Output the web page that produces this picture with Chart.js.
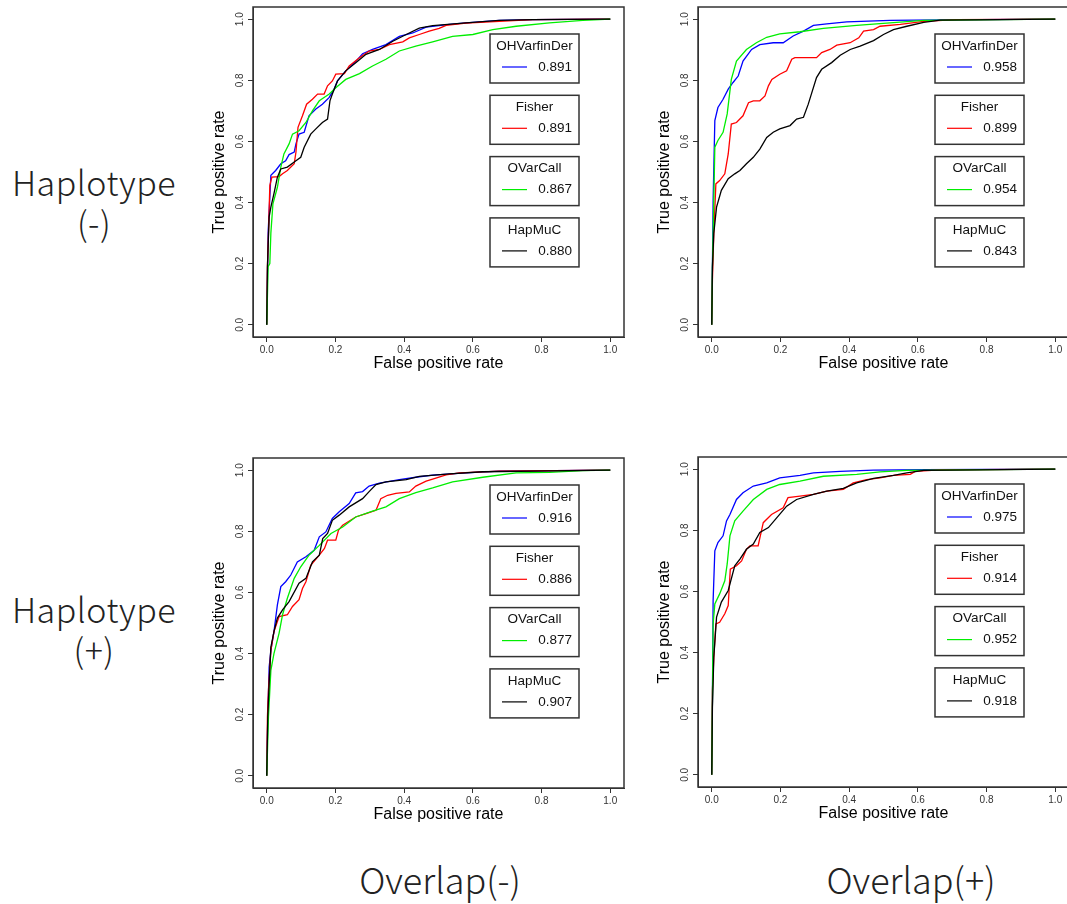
<!DOCTYPE html>
<html>
<head>
<meta charset="utf-8">
<script src="https://cdn.jsdelivr.net/npm/chart.js@4.4.0/dist/chart.umd.min.js"></script>
<style>
  body { margin: 0; background: #fff; width: 1067px; height: 904px; position: relative; overflow: hidden; }
  .panel { position: absolute; width: 430px; height: 380px; }
  .lbl { position: absolute; font-family: "Noto Sans CJK JP Light", "Noto Sans CJK JP", sans-serif; font-weight: 300; color: #222; text-align: center; white-space: nowrap; }
  .row { left: 0; width: 188px; font-size: 34px; line-height: 40px; letter-spacing: 0.5px; }
  .col { width: 240px; font-size: 36px; line-height: 40px; }
</style>
</head>
<body>
<div class="panel" style="left:200px;top:0px"><canvas id="hmOm" width="430" height="380"></canvas></div>
<div class="panel" style="left:645px;top:0px"><canvas id="hmOp" width="430" height="380"></canvas></div>
<div class="panel" style="left:200px;top:451px"><canvas id="hpOm" width="430" height="380"></canvas></div>
<div class="panel" style="left:645px;top:450px"><canvas id="hpOp" width="430" height="380"></canvas></div>

<div class="lbl row" style="top:162px">Haplotype<br>(-)</div>
<div class="lbl row" style="top:589px">Haplotype<br>(+)</div>
<div class="lbl col" style="left:320px;top:858px">Overlap(-)</div>
<div class="lbl col" style="left:791px;top:858px">Overlap(+)</div>

<script>
const methods = ["OHVarfinDer", "Fisher", "OVarCall", "HapMuC"];
const methodColors = ["#0000ff", "#ff0000", "#00ee00", "#000000"];
const tickValues = [0, 0.2, 0.4, 0.6, 0.8, 1.0];

// AUC per panel, in the order of methods
const aucHmOm = [0.891, 0.891, 0.867, 0.880];
const aucHmOp = [0.958, 0.899, 0.954, 0.843];
const aucHpOm = [0.916, 0.886, 0.877, 0.907];
const aucHpOp = [0.975, 0.914, 0.952, 0.918];

// ROC points [FPR, TPR]
// Haplotype(-) Overlap(-)
const hmOmOHVarfinDer = [[0,0],[0.004,0.3],[0.012,0.489],[0.026,0.505],[0.041,0.527],[0.055,0.537],[0.065,0.557],[0.08,0.565],[0.085,0.592],[0.094,0.624],[0.109,0.63],[0.123,0.684],[0.143,0.706],[0.162,0.722],[0.182,0.744],[0.196,0.771],[0.206,0.798],[0.23,0.831],[0.26,0.863],[0.279,0.887],[0.308,0.901],[0.347,0.917],[0.386,0.944],[0.425,0.955],[0.464,0.974],[0.532,0.983],[0.58,0.988],[0.677,0.996],[0.775,0.999],[1,1]];
const hmOmFisher = [[0,0],[0.002,0.19],[0.005,0.3],[0.009,0.456],[0.015,0.483],[0.036,0.485],[0.046,0.494],[0.06,0.505],[0.08,0.527],[0.085,0.565],[0.091,0.646],[0.104,0.684],[0.116,0.722],[0.133,0.738],[0.148,0.755],[0.167,0.755],[0.177,0.782],[0.191,0.798],[0.201,0.82],[0.226,0.822],[0.24,0.847],[0.27,0.874],[0.298,0.896],[0.328,0.901],[0.357,0.917],[0.396,0.926],[0.415,0.939],[0.444,0.95],[0.473,0.961],[0.502,0.97],[0.522,0.98],[0.58,0.987],[0.677,0.993],[0.775,0.999],[1,1]];
const hmOmOVarCall = [[0,0],[0.004,0.19],[0.009,0.2],[0.012,0.3],[0.018,0.396],[0.031,0.45],[0.041,0.516],[0.05,0.559],[0.065,0.592],[0.075,0.624],[0.094,0.635],[0.114,0.662],[0.133,0.7],[0.153,0.733],[0.182,0.755],[0.201,0.776],[0.23,0.803],[0.27,0.822],[0.308,0.847],[0.347,0.869],[0.386,0.896],[0.434,0.912],[0.483,0.926],[0.541,0.944],[0.6,0.95],[0.658,0.966],[0.726,0.977],[0.823,0.988],[0.92,0.996],[1,1]];
const hmOmHapMuC = [[0,0],[0.002,0.19],[0.007,0.353],[0.012,0.385],[0.021,0.429],[0.031,0.483],[0.041,0.51],[0.06,0.516],[0.085,0.537],[0.099,0.548],[0.109,0.581],[0.128,0.624],[0.143,0.641],[0.162,0.662],[0.177,0.673],[0.184,0.733],[0.191,0.755],[0.206,0.798],[0.23,0.831],[0.26,0.858],[0.289,0.885],[0.328,0.901],[0.367,0.928],[0.406,0.95],[0.444,0.971],[0.483,0.979],[0.58,0.988],[0.677,0.996],[0.775,0.999],[1,1]];

// Haplotype(-) Overlap(+)
const hmOpOHVarfinDer = [[0,0],[0.002,0.19],[0.004,0.407],[0.009,0.668],[0.018,0.711],[0.033,0.738],[0.048,0.771],[0.062,0.793],[0.077,0.814],[0.091,0.863],[0.116,0.901],[0.14,0.917],[0.179,0.923],[0.208,0.923],[0.237,0.945],[0.267,0.961],[0.296,0.98],[0.335,0.985],[0.393,0.991],[0.519,0.996],[0.665,0.998],[1,1]];
const hmOpFisher = [[0,0],[0.002,0.147],[0.006,0.3],[0.012,0.461],[0.023,0.472],[0.038,0.494],[0.048,0.559],[0.057,0.657],[0.072,0.662],[0.091,0.684],[0.107,0.727],[0.121,0.733],[0.14,0.733],[0.155,0.749],[0.165,0.782],[0.175,0.803],[0.198,0.82],[0.218,0.831],[0.233,0.869],[0.242,0.874],[0.305,0.874],[0.32,0.891],[0.344,0.901],[0.364,0.915],[0.403,0.923],[0.428,0.939],[0.442,0.961],[0.471,0.966],[0.49,0.977],[0.549,0.983],[0.617,0.993],[0.714,0.999],[1,1]];
const hmOpOVarCall = [[0,0],[0.002,0.19],[0.006,0.407],[0.009,0.581],[0.018,0.603],[0.033,0.63],[0.045,0.69],[0.057,0.803],[0.072,0.863],[0.101,0.901],[0.13,0.923],[0.16,0.941],[0.198,0.952],[0.257,0.959],[0.325,0.97],[0.422,0.98],[0.519,0.988],[0.617,0.996],[1,1]];
const hmOpHapMuC = [[0,0],[0.002,0.19],[0.006,0.3],[0.014,0.385],[0.028,0.44],[0.048,0.478],[0.067,0.494],[0.082,0.505],[0.101,0.527],[0.121,0.548],[0.14,0.575],[0.16,0.613],[0.179,0.63],[0.198,0.641],[0.228,0.652],[0.247,0.673],[0.267,0.679],[0.281,0.722],[0.29,0.755],[0.305,0.809],[0.32,0.836],[0.349,0.858],[0.374,0.882],[0.403,0.901],[0.432,0.912],[0.471,0.93],[0.5,0.95],[0.529,0.966],[0.568,0.977],[0.617,0.99],[0.665,0.997],[1,1]];

// Haplotype(+) Overlap(-)
const hpOmOHVarfinDer = [[0,0],[0.003,0.193],[0.007,0.356],[0.012,0.41],[0.021,0.472],[0.031,0.559],[0.041,0.619],[0.055,0.635],[0.07,0.657],[0.089,0.7],[0.114,0.717],[0.138,0.738],[0.153,0.782],[0.172,0.798],[0.191,0.842],[0.211,0.864],[0.24,0.891],[0.259,0.926],[0.279,0.93],[0.298,0.948],[0.328,0.958],[0.386,0.969],[0.434,0.977],[0.483,0.984],[0.58,0.991],[0.677,0.997],[1,1]];
const hpOmFisher = [[0,0],[0.002,0.193],[0.005,0.28],[0.012,0.41],[0.021,0.472],[0.036,0.521],[0.06,0.527],[0.075,0.554],[0.094,0.576],[0.104,0.613],[0.114,0.635],[0.128,0.689],[0.153,0.722],[0.168,0.744],[0.177,0.771],[0.201,0.771],[0.209,0.804],[0.221,0.82],[0.259,0.847],[0.289,0.858],[0.318,0.869],[0.332,0.907],[0.352,0.918],[0.376,0.924],[0.415,0.929],[0.434,0.948],[0.464,0.964],[0.483,0.971],[0.522,0.985],[0.561,0.991],[0.677,0.997],[1,1]];
const hpOmOVarCall = [[0,0],[0.005,0.193],[0.012,0.345],[0.021,0.4],[0.036,0.467],[0.046,0.527],[0.06,0.581],[0.08,0.646],[0.099,0.684],[0.123,0.722],[0.153,0.754],[0.187,0.793],[0.221,0.814],[0.259,0.847],[0.308,0.866],[0.347,0.88],[0.386,0.907],[0.434,0.927],[0.483,0.942],[0.541,0.962],[0.629,0.977],[0.726,0.991],[0.823,0.993],[0.92,0.999],[1,1]];
const hpOmHapMuC = [[0,0],[0.003,0.193],[0.007,0.302],[0.012,0.421],[0.021,0.472],[0.031,0.516],[0.046,0.543],[0.065,0.57],[0.094,0.63],[0.114,0.646],[0.133,0.7],[0.153,0.722],[0.163,0.776],[0.177,0.793],[0.191,0.836],[0.211,0.853],[0.24,0.88],[0.279,0.907],[0.298,0.93],[0.318,0.953],[0.347,0.962],[0.406,0.969],[0.444,0.98],[0.532,0.988],[0.629,0.995],[1,1]];

// Haplotype(+) Overlap(+)
const hpOpOHVarfinDer = [[0,0],[0.002,0.244],[0.004,0.57],[0.009,0.733],[0.018,0.76],[0.033,0.782],[0.043,0.831],[0.053,0.852],[0.072,0.901],[0.091,0.923],[0.121,0.945],[0.16,0.955],[0.198,0.972],[0.257,0.98],[0.296,0.988],[0.374,0.993],[0.471,0.997],[0.617,0.999],[1,1]];
const hpOpFisher = [[0,0],[0.002,0.277],[0.006,0.385],[0.012,0.494],[0.023,0.499],[0.038,0.527],[0.048,0.554],[0.054,0.673],[0.072,0.684],[0.087,0.7],[0.101,0.738],[0.111,0.749],[0.135,0.749],[0.15,0.825],[0.174,0.852],[0.208,0.874],[0.222,0.907],[0.257,0.912],[0.296,0.918],[0.335,0.928],[0.383,0.934],[0.412,0.955],[0.451,0.966],[0.49,0.972],[0.529,0.98],[0.578,0.983],[0.592,0.993],[0.665,0.998],[1,1]];
const hpOpOVarCall = [[0,0],[0.002,0.244],[0.004,0.494],[0.009,0.559],[0.023,0.592],[0.038,0.635],[0.045,0.69],[0.053,0.782],[0.067,0.831],[0.091,0.863],[0.121,0.901],[0.16,0.934],[0.198,0.95],[0.257,0.961],[0.325,0.977],[0.422,0.983],[0.49,0.991],[0.568,0.996],[1,1]];
const hpOpHapMuC = [[0,0],[0.002,0.223],[0.006,0.385],[0.014,0.516],[0.028,0.565],[0.048,0.603],[0.067,0.684],[0.082,0.706],[0.101,0.738],[0.121,0.755],[0.14,0.793],[0.165,0.809],[0.189,0.841],[0.218,0.879],[0.247,0.901],[0.296,0.918],[0.335,0.928],[0.383,0.937],[0.422,0.955],[0.471,0.97],[0.529,0.98],[0.568,0.988],[0.617,0.996],[1,1]];

Chart.defaults.font.family = '"Liberation Sans", Arial, sans-serif';

// box round the plot region, like R's box()
const plotBox = {
  id: "plotBox",
  afterDraw(chart) {
    const { ctx, chartArea } = chart;
    ctx.save();
    ctx.strokeStyle = "#333";
    ctx.lineWidth = 1.5;
    ctx.strokeRect(chartArea.left, chartArea.top, chartArea.right - chartArea.left, chartArea.bottom - chartArea.top);
    ctx.restore();
  }
};

// one small framed legend per method, stacked on the right
const rocLegend = {
  id: "rocLegend",
  afterDraw(chart) {
    const { ctx, chartArea } = chart;
    const w = 89, h = 49, step = 61.3;
    const left = chartArea.right - 45 - w;
    chart.data.datasets.forEach((ds, i) => {
      const top = chartArea.top + 27 + i * step;
      ctx.save();
      ctx.fillStyle = "#fff";
      ctx.fillRect(left, top, w, h);
      ctx.strokeStyle = "#333";
      ctx.lineWidth = 1.5;
      ctx.strokeRect(left, top, w, h);
      ctx.font = '13.5px "Liberation Sans", Arial, sans-serif';
      ctx.fillStyle = "#111";
      ctx.textBaseline = "middle";
      ctx.textAlign = "center";
      ctx.fillText(ds.label, left + w / 2, top + 12);
      ctx.strokeStyle = ds.borderColor;
      ctx.lineWidth = 1.2;
      ctx.beginPath();
      ctx.moveTo(left + 12, top + 33);
      ctx.lineTo(left + 37, top + 33);
      ctx.stroke();
      ctx.textAlign = "right";
      ctx.fillText(ds.auc.toFixed(3), left + w - 7, top + 33);
      ctx.restore();
    });
  }
};

function axisOptions(title, vertical) {
  return {
    type: "linear",
    min: -0.04,
    max: 1.04,
    afterBuildTicks: (s) => { s.ticks = tickValues.map(v => ({ value: v })); },
    afterFit: (s) => { if (vertical) s.width = 53; else s.height = 43; },
    grid: { display: true, drawOnChartArea: false, drawTicks: true, tickLength: 5, color: "#333", lineWidth: 1 },
    border: { display: true, color: "#333", width: 1 },
    ticks: vertical
      ? { minRotation: 90, maxRotation: 90, crossAlign: "center", padding: 1, color: "#333", font: { size: 10 }, callback: v => v.toFixed(1) }
      : { maxRotation: 0, padding: 2, color: "#333", font: { size: 10 }, callback: v => v.toFixed(1) },
    title: {
      display: true,
      text: title,
      color: "#000",
      font: { size: 16 },
      padding: vertical ? { top: 10, bottom: 0 } : { top: 0, bottom: 7 }
    }
  };
}

function drawPanel(id, curves, aucs) {
  new Chart(document.getElementById(id), {
    type: "scatter",
    data: {
      datasets: methods.map((m, i) => ({
        label: m,
        auc: aucs[i],
        data: curves[i].map(([x, y]) => ({ x, y })),
        showLine: true,
        borderColor: methodColors[i],
        borderWidth: 1.3,
        pointRadius: 0,
        tension: 0,
        order: methods.length - i
      }))
    },
    options: {
      responsive: false,
      animation: false,
      layout: { padding: { top: 6, right: 6, left: 0, bottom: 0 } },
      plugins: { legend: { display: false }, tooltip: { enabled: false } },
      scales: {
        x: axisOptions("False positive rate", false),
        y: axisOptions("True positive rate", true)
      }
    },
    plugins: [plotBox, rocLegend]
  });
}

drawPanel("hmOm", [hmOmOHVarfinDer, hmOmFisher, hmOmOVarCall, hmOmHapMuC], aucHmOm);
drawPanel("hmOp", [hmOpOHVarfinDer, hmOpFisher, hmOpOVarCall, hmOpHapMuC], aucHmOp);
drawPanel("hpOm", [hpOmOHVarfinDer, hpOmFisher, hpOmOVarCall, hpOmHapMuC], aucHpOm);
drawPanel("hpOp", [hpOpOHVarfinDer, hpOpFisher, hpOpOVarCall, hpOpHapMuC], aucHpOp);
</script>
</body>
</html>
